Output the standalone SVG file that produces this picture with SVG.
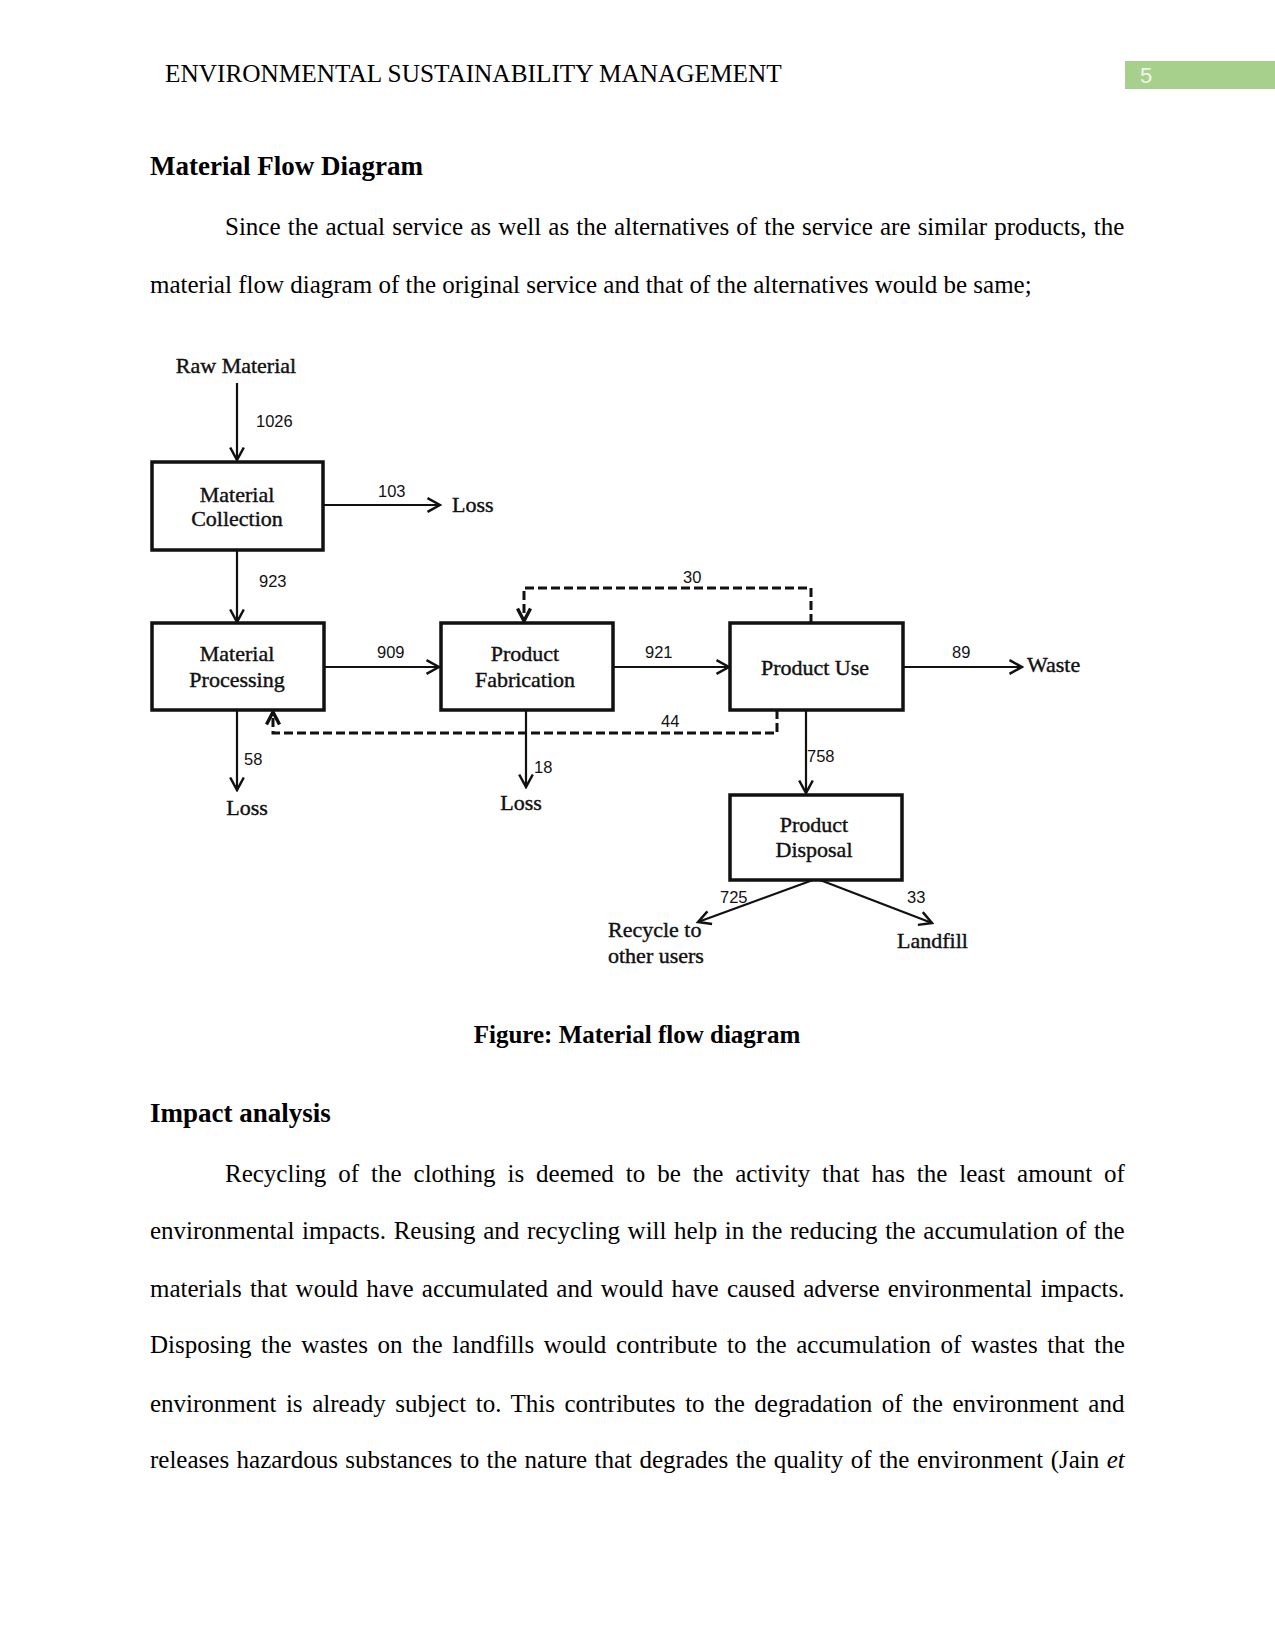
<svg xmlns="http://www.w3.org/2000/svg" width="1275" height="1650" viewBox="0 0 1275 1650">
<defs>
<style>
.page{font-family:"Liberation Serif","Times New Roman",serif;fill:#000}
.body{font-size:25px}
.hd{font-size:27px;font-weight:bold}
.cap{font-size:25px;font-weight:bold}
.lbl{font-family:"Liberation Serif","Times New Roman",serif;font-size:22px;fill:#111;stroke:#111;stroke-width:0.4;text-anchor:middle}
.lbll{font-family:"Liberation Serif","Times New Roman",serif;font-size:22px;fill:#111;stroke:#111;stroke-width:0.4}
.num{font-family:"Liberation Sans",Arial,sans-serif;font-size:16.5px;fill:#111}
.box{fill:#fff;stroke:#111;stroke-width:3.5}
.ln{fill:none;stroke:#111;stroke-width:2.2}
.dash{fill:none;stroke:#111;stroke-width:3;stroke-dasharray:9 4}
</style>
<marker id="ah" viewBox="0 0 16 16" refX="14" refY="8" markerWidth="16" markerHeight="16" markerUnits="userSpaceOnUse" orient="auto">
<path d="M1.5,1.2 L14,8 L1.5,14.8" fill="none" stroke="#111" stroke-width="2.5"/>
</marker>
<marker id="ahd" viewBox="0 0 16 16" refX="14" refY="8" markerWidth="16" markerHeight="16" markerUnits="userSpaceOnUse" orient="auto">
<path d="M1.5,1.5 L14,8 L1.5,14.5" fill="none" stroke="#111" stroke-width="3.4"/>
</marker>
</defs>
<rect width="1275" height="1650" fill="#fff"/>

<g id="header" class="page">
<text x="165" y="82" class="body" style="font-size:25.3px">ENVIRONMENTAL SUSTAINABILITY MANAGEMENT</text>
<rect x="1125" y="61" width="150" height="28" fill="#a8d08d"/>
<text x="1140" y="83" font-family="Liberation Sans, Arial, sans-serif" font-size="22" fill="#eef6e8">5</text>
</g>

<g id="intro" class="page">
<text x="150" y="175" class="hd">Material Flow Diagram</text>
<text x="225" y="235" class="body" word-spacing="0.9">Since the actual service as well as the alternatives of the service are similar products, the</text>
<text x="150" y="293" class="body">material flow diagram of the original service and that of the alternatives would be same;</text>
</g>

<g id="connectors">
<line class="ln" x1="237" y1="383" x2="237" y2="460" marker-end="url(#ah)"/>
<line class="ln" x1="323" y1="505" x2="440" y2="505" marker-end="url(#ah)"/>
<line class="ln" x1="237" y1="550" x2="237" y2="622" marker-end="url(#ah)"/>
<line class="ln" x1="324" y1="667" x2="439" y2="667" marker-end="url(#ah)"/>
<line class="ln" x1="613" y1="667" x2="729" y2="667" marker-end="url(#ah)"/>
<line class="ln" x1="904" y1="667" x2="1022" y2="667" marker-end="url(#ah)"/>
<line class="ln" x1="237" y1="710" x2="237" y2="790" marker-end="url(#ah)"/>
<line class="ln" x1="526" y1="710" x2="526" y2="787" marker-end="url(#ah)"/>
<line class="ln" x1="806" y1="710" x2="806" y2="793" marker-end="url(#ah)"/>
<line class="ln" x1="813" y1="880" x2="698" y2="922" marker-end="url(#ah)"/>
<line class="ln" x1="820" y1="880" x2="932" y2="923" marker-end="url(#ah)"/>
<path class="dash" d="M811,623 V588 H524 V621" marker-end="url(#ahd)"/>
<path class="dash" d="M777,710 V733 H273 V712" marker-end="url(#ahd)"/>
<text class="num" x="256" y="427">1026</text>
<text class="num" x="378" y="497">103</text>
<text class="num" x="259" y="587">923</text>
<text class="num" x="377" y="658">909</text>
<text class="num" x="645" y="658">921</text>
<text class="num" x="952" y="658">89</text>
<text class="num" x="683" y="583">30</text>
<text class="num" x="661" y="727">44</text>
<text class="num" x="244" y="765">58</text>
<text class="num" x="534" y="773">18</text>
<text class="num" x="807" y="762">758</text>
<text class="num" x="720" y="903">725</text>
<text class="num" x="907" y="903">33</text>
</g>

<g id="raw-material"><text class="lbl" x="236" y="373">Raw Material</text></g>
<g id="loss-103"><text class="lbll" x="452" y="512">Loss</text></g>
<g id="loss-58"><text class="lbl" x="247" y="815">Loss</text></g>
<g id="loss-18"><text class="lbl" x="521" y="810">Loss</text></g>
<g id="waste"><text class="lbll" x="1027" y="672">Waste</text></g>
<g id="recycle"><text class="lbll" x="608" y="937">Recycle to</text><text class="lbll" x="608" y="963">other users</text></g>
<g id="landfill"><text class="lbll" x="897" y="948">Landfill</text></g>

<g id="material-collection">
<rect class="box" x="152" y="462" width="171" height="88"/>
<text class="lbl" x="237" y="502">Material</text>
<text class="lbl" x="237" y="526">Collection</text>
</g>
<g id="material-processing">
<rect class="box" x="152" y="623" width="172" height="87"/>
<text class="lbl" x="237" y="661">Material</text>
<text class="lbl" x="237" y="687">Processing</text>
</g>
<g id="product-fabrication">
<rect class="box" x="441" y="623" width="172" height="87"/>
<text class="lbl" x="525" y="661">Product</text>
<text class="lbl" x="525" y="687">Fabrication</text>
</g>
<g id="product-use">
<rect class="box" x="730" y="623" width="173" height="87"/>
<text class="lbl" x="815" y="675">Product Use</text>
</g>
<g id="product-disposal">
<rect class="box" x="730" y="795" width="172" height="85"/>
<text class="lbl" x="814" y="832">Product</text>
<text class="lbl" x="814" y="857">Disposal</text>
</g>

<g id="caption" class="page">
<text x="637" y="1043" class="cap" text-anchor="middle">Figure: Material flow diagram</text>
<text x="150" y="1122" class="hd">Impact analysis</text>
</g>

<g id="body" class="page body">
<text x="225" y="1182" word-spacing="5.7">Recycling of the clothing is deemed to be the activity that has the least amount of</text>
<text x="150" y="1239" word-spacing="1.38">environmental impacts. Reusing and recycling will help in the reducing the accumulation of the</text>
<text x="150" y="1297" word-spacing="2.0">materials that would have accumulated and would have caused adverse environmental impacts.</text>
<text x="150" y="1353" word-spacing="3.38">Disposing the wastes on the landfills would contribute to the accumulation of wastes that the</text>
<text x="150" y="1412" word-spacing="3.32">environment is already subject to. This contributes to the degradation of the environment and</text>
<text x="150" y="1468" word-spacing="1.2">releases hazardous substances to the nature that degrades the quality of the environment (Jain <tspan font-style="italic">et</tspan></text>
</g>
</svg>
